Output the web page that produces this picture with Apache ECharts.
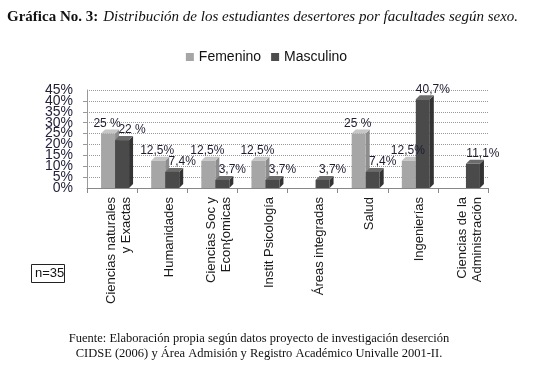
<!DOCTYPE html>
<html>
<head>
<meta charset="utf-8">
<script src="https://cdn.jsdelivr.net/npm/echarts@6/dist/echarts.min.js"></script>
<style>
  html, body { margin: 0; padding: 0; background: #fff; }
  #chart { width: 533px; height: 366px; }
</style>
</head>
<body>
<div id="chart"></div>
<script>
// facultades
var categories = [
  'Ciencias naturales\ny Exactas',
  'Humanidades',
  'Ciencias Soc y\nEcon{omicas',
  'Instit Psicología',
  'Áreas integradas',
  'Salud',
  'Ingenierías',
  'Ciencias de la\nAdministración'
];
// porcentajes por sexo
var femenino = [25, 12.5, 12.5, 12.5, 0, 25, 12.5, 0];
var masculino = [22, 7.4, 3.7, 3.7, 3.7, 7.4, 40.7, 11.1];
var yTicks = { min: 0, max: 45, interval: 5 };

function fmtPct(v) {
  if (Math.round(v) === v) return v + ' %';
  return String(v).replace('.', ',') + '%';
}

// barra con efecto 3D (cara frontal, superior y lateral)
function bar3d(side, front, topC, sideC, labelDx) {
  return function (params, api) {
    var v = api.value(1);
    if (!v) return;
    var idx = api.value(0);
    var base = api.coord([idx, 0]);
    var top = api.coord([idx, v]);
    var w = 14, d = 4;
    var cx = base[0] + 3;
    var x0 = side < 0 ? cx - w : cx;
    var yb = base[1], yt = top[1];
    return {
      type: 'group',
      children: [
        {
          type: 'polygon',
          shape: { points: [[x0 + w, yt], [x0 + w + d, yt - d], [x0 + w + d, yb - d], [x0 + w, yb]] },
          style: { fill: sideC }
        },
        {
          type: 'polygon',
          shape: { points: [[x0, yt], [x0 + d, yt - d], [x0 + w + d, yt - d], [x0 + w, yt]] },
          style: { fill: topC }
        },
        {
          type: 'rect',
          shape: { x: x0, y: yt, width: w, height: yb - yt },
          style: { fill: front }
        },
        {
          type: 'text',
          z2: 100,
          x: x0 + w / 2 + labelDx,
          y: yt - 4,
          style: {
            text: fmtPct(v),
            textAlign: 'center',
            textVerticalAlign: 'bottom',
            fontSize: 12,
            fontFamily: 'Liberation Sans',
            fill: '#1c1c34'
          }
        }
      ]
    };
  };
}

var yLabelStyle = { fontFamily: 'Liberation Sans', fontSize: 14, color: '#1f1f3a' };

var chart = echarts.init(document.getElementById('chart'));
chart.setOption({
  animation: false,
  title: {
    left: 7,
    top: 8,
    padding: 0,
    text: '{b|Gráfica No. 3:} {i|Distribución de los estudiantes desertores por facultades según sexo.}',
    textStyle: {
      rich: {
        b: { fontFamily: 'Liberation Serif', fontWeight: 'bold', fontSize: 15, color: '#111' },
        i: { fontFamily: 'Liberation Serif', fontStyle: 'italic', fontWeight: 'normal', fontSize: 15, color: '#111' }
      }
    }
  },
  legend: {
    top: 45,
    left: 'center',
    itemWidth: 8,
    itemHeight: 8,
    itemGap: 10,
    icon: 'rect',
    textStyle: { fontFamily: 'Liberation Sans', fontSize: 14, color: '#111' },
    data: ['Femenino', 'Masculino']
  },
  grid: { left: 87, right: 45, top: 90, bottom: 178 },
  xAxis: {
    type: 'category',
    data: categories,
    boundaryGap: true,
    axisLine: { lineStyle: { color: '#888' } },
    axisTick: { show: true, length: 5, lineStyle: { color: '#888' } },
    axisLabel: {
      interval: 0,
      rotate: 90,
      margin: 9,
      formatter: function (name) {
        return name.split('\n').map(function (l) {
          return '{s|' + l + '}';
        }).join('\n');
      },
      rich: {
        s: { fontFamily: 'Liberation Sans', fontSize: 13, lineHeight: 15, color: '#1a1a1a', padding: [14, 0, 0, 0] }
      }
    }
  },
  yAxis: [
    {
      type: 'value',
      min: yTicks.min,
      max: yTicks.max,
      interval: yTicks.interval,
      axisLine: { show: true, lineStyle: { color: '#999' } },
      axisTick: { show: true, length: 4, lineStyle: { color: '#999' } },
      axisLabel: Object.assign({
        formatter: '{value}%',
        margin: 14,
        showMinLabel: false,
        showMaxLabel: false
      }, yLabelStyle),
      splitLine: { lineStyle: { color: '#999', type: 'dotted' } }
    },
    {
      // solo etiquetas extremas (0% y 45%)
      type: 'value',
      position: 'left',
      min: yTicks.min,
      max: yTicks.max,
      interval: yTicks.max - yTicks.min,
      axisLine: { show: false },
      axisTick: { show: false },
      splitLine: { show: false },
      axisLabel: Object.assign({ formatter: '{value}%', margin: 14 }, yLabelStyle)
    }
  ],
  graphic: [
    {
      type: 'rect',
      left: 31,
      top: 264,
      shape: { width: 33, height: 18 },
      style: { fill: '#fff', stroke: '#222', lineWidth: 1 }
    },
    {
      type: 'text',
      left: 35,
      top: 267,
      style: { text: 'n=35', fontFamily: 'Liberation Sans', fontSize: 13, fill: '#111' }
    },
    {
      type: 'text',
      x: 259,
      y: 331,
      style: {
        text: 'Fuente: Elaboración propia según datos proyecto de investigación deserción\nCIDSE (2006) y Área Admisión y Registro Académico Univalle 2001-II.',
        textAlign: 'center',
        fontFamily: 'Liberation Serif',
        fontSize: 12.5,
        lineHeight: 15,
        fill: '#111'
      }
    }
  ],
  series: [
    {
      name: 'Femenino',
      type: 'custom',
      color: '#a6a6a6',
      renderItem: bar3d(-1, '#a6a6a6', '#c6c6c6', '#8c8c8c', -1),
      encode: { x: 0, y: 1 },
      data: femenino.map(function (v, i) { return [i, v]; })
    },
    {
      name: 'Masculino',
      type: 'custom',
      color: '#4d4d4d',
      renderItem: bar3d(1, '#4a4a4a', '#6c6c6c', '#333333', 10),
      encode: { x: 0, y: 1 },
      data: masculino.map(function (v, i) { return [i, v]; })
    }
  ]
});
</script>
</body>
</html>
